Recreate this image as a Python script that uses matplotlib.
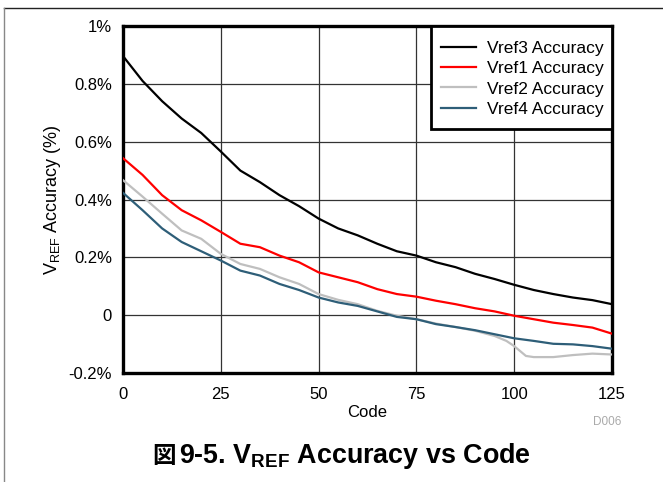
import matplotlib
matplotlib.use("Agg")
import matplotlib.pyplot as plt
from matplotlib.lines import Line2D
from matplotlib.patches import Rectangle

plt.rcParams['font.family'] = ['Liberation Sans', 'Noto Sans CJK JP', 'DejaVu Sans']
plt.rcParams['mathtext.fontset'] = 'custom'
plt.rcParams['mathtext.rm'] = 'Liberation Sans'
plt.rcParams['mathtext.bf'] = 'Liberation Sans:bold'

codes = [0, 5, 10, 15, 20, 25, 30, 35, 40, 45, 50, 55, 60, 65, 70, 75, 80, 85,
         90, 95, 100, 105, 110, 115, 120, 125]
vref3 = [0.896, 0.81, 0.74, 0.68, 0.63, 0.566, 0.50, 0.46, 0.415, 0.377, 0.334,
         0.30, 0.276, 0.247, 0.221, 0.206, 0.183, 0.166, 0.143, 0.125, 0.105,
         0.087, 0.073, 0.061, 0.052, 0.038]
vref1 = [0.543, 0.485, 0.415, 0.363, 0.328, 0.288, 0.247, 0.235, 0.206, 0.183,
         0.148, 0.131, 0.114, 0.090, 0.073, 0.064, 0.050, 0.038, 0.024, 0.013,
         -0.002, -0.014, -0.026, -0.034, -0.043, -0.064]
codes2 = [0, 5, 10, 15, 20, 25, 30, 35, 40, 45, 50, 55, 60, 65, 70, 75, 80, 85,
          90, 95, 98, 100, 103, 105, 110, 115, 120, 125]
vref2 = [0.467, 0.41, 0.351, 0.293, 0.264, 0.212, 0.177, 0.160, 0.131, 0.108,
         0.073, 0.053, 0.038, 0.015, -0.002, -0.014, -0.029, -0.041, -0.054,
         -0.072, -0.089, -0.107, -0.141, -0.145, -0.145, -0.138, -0.133, -0.136]
vref4 = [0.423, 0.363, 0.30, 0.253, 0.221, 0.189, 0.154, 0.137, 0.108, 0.087,
         0.061, 0.044, 0.032, 0.013, -0.006, -0.014, -0.031, -0.041, -0.052,
         -0.066, -0.080, -0.089, -0.099, -0.101, -0.107, -0.116]

xticks = [0, 25, 50, 75, 100, 125]
yticks = [-0.2, 0, 0.2, 0.4, 0.6, 0.8, 1.0]
ytick_labels = ['-0.2%', '0', '0.2%', '0.4%', '0.6%', '0.8%', '1%']

W, H = 663, 482
L, R, T, B = 123, 612, 26, 373
fig = plt.figure(figsize=(W/100, H/100), dpi=100)
ax = fig.add_axes([L/W, 1-B/H, (R-L)/W, (B-T)/H])

ax.plot(codes2, vref2, color='#BFBFBF', lw=1.6, label='Vref2 Accuracy', zorder=3)
ax.plot(codes, vref4, color='#2E5E78', lw=1.6, label='Vref4 Accuracy', zorder=4)
ax.plot(codes, vref1, color='#FF0000', lw=1.6, label='Vref1 Accuracy', zorder=5)
ax.plot(codes, vref3, color='#000000', lw=1.6, label='Vref3 Accuracy', zorder=6)

ax.set_xlim(0, 125)
ax.set_ylim(-0.2, 1.0)
ax.set_xticks(xticks)
ax.set_xticklabels([str(t) for t in xticks])
ax.set_yticks(yticks)
ax.set_yticklabels(ytick_labels)
ax.tick_params(length=0, labelsize=12)
ax.tick_params(axis='y', pad=8)
ax.tick_params(axis='x', pad=10)
ax.grid(True, color='#333333', lw=0.9)
ax.set_axisbelow(True)
for s in ax.spines.values():
    s.set_linewidth(2.4)
    s.set_color('black')

ax.set_xlabel('Code', fontsize=12, labelpad=2)
ax.set_ylabel(r'V$_{\mathrm{REF}}$ Accuracy (%)', fontsize=13, labelpad=4)

# legend box
box = Rectangle(((431-L)/(R-L), (B-129)/(B-T)), 181/(R-L), 103/(B-T),
                transform=ax.transAxes, facecolor='white', edgecolor='black',
                lw=2.0, zorder=9)
ax.add_patch(box)

handles, labels = ax.get_legend_handles_labels()
order = ['Vref3 Accuracy', 'Vref1 Accuracy', 'Vref2 Accuracy', 'Vref4 Accuracy']
hmap = dict(zip(labels, handles))
leg = ax.legend([hmap[l] for l in order], order, loc='upper right',
                bbox_to_anchor=(1.0, (B-32)/(B-T)), fontsize=12.5,
                frameon=False, borderaxespad=0, handlelength=2.0,
                labelspacing=0.3, handletextpad=0.6, borderpad=0.5)
leg.set_zorder(10)

fig.text(607/W, 1-422/H, 'D006', color='#AAAAAA', fontsize=8.5,
         ha='center', va='center')
ybase = 1 - 463/H
fig.text(152/W, ybase, '図', fontfamily='Noto Sans CJK JP', fontweight='bold',
         fontsize=17, ha='left', va='baseline')
fig.text(179/W, ybase, r'9-5. $\mathbf{V_{REF}}$ Accuracy vs Code',
         fontsize=19.4, fontweight='bold', ha='left', va='baseline')

fig.add_artist(Line2D([4/W, 1], [1-8/H, 1-8/H], color='#222222', lw=1))
fig.add_artist(Line2D([4/W, 4/W], [0, 1-8/H], color='#888888', lw=1))

fig.savefig('out.png', dpi=100)
